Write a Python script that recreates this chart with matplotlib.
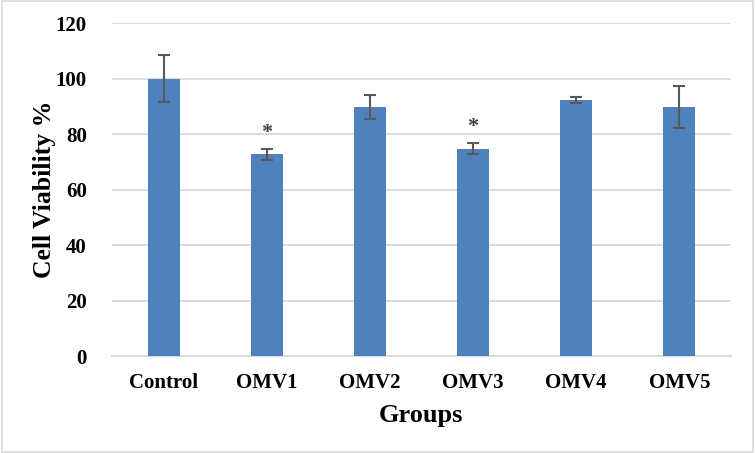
import matplotlib
matplotlib.use("Agg")
import matplotlib.pyplot as plt
from matplotlib.patches import Rectangle

groups = ["Control", "OMV1", "OMV2", "OMV3", "OMV4", "OMV5"]
viability = [100.0, 72.8, 89.9, 74.7, 92.4, 89.9]
errors = [8.5, 2.0, 4.3, 2.0, 1.0, 7.5]
significant = [False, True, False, True, False, False]
yticks = [0, 20, 40, 60, 80, 100, 120]

plt.rcParams['font.family'] = ['Liberation Serif', 'DejaVu Serif']
plt.rcParams['font.weight'] = 'bold'

fig = plt.figure(figsize=(7.55, 4.53), dpi=100)
ax = fig.add_axes([0.1483, 0.2141, 0.8197, 0.7345])

x = list(range(len(groups)))
ax.bar(x, viability, width=0.31, color='#4F81BD', zorder=3,
       yerr=errors, error_kw=dict(ecolor='#595959', elinewidth=1.5, capsize=4.5, capthick=1.5, zorder=4))

for xi, v, e, s in zip(x, viability, errors, significant):
    if s:
        ax.text(xi, v + e + 2.2, "*", ha='center', va='bottom', fontsize=16,
                fontweight='bold', color='#404040')

ax.set_xlim(-0.5, len(groups) - 0.5)
ax.set_ylim(0, 120)
ax.set_yticks(yticks)
ax.set_xticks(x)
ax.set_xticklabels(groups)
ax.yaxis.grid(True, color='#D9D9D9', linewidth=1.3, zorder=0)
ax.set_axisbelow(True)
for sp in ['top', 'right', 'left']:
    ax.spines[sp].set_visible(False)
ax.spines['bottom'].set_color('#D9D9D9')
ax.spines['bottom'].set_linewidth(1.3)
ax.tick_params(axis='both', length=0, labelsize=15)
ax.tick_params(axis='y', pad=18)
ax.tick_params(axis='x', pad=12)
for lbl in ax.get_xticklabels() + ax.get_yticklabels():
    lbl.set_fontweight('bold')

ax.set_xlabel("Groups", fontsize=19, fontweight='bold', labelpad=8)
ax.set_ylabel("Cell Viability %", fontsize=18.5, fontweight='bold', labelpad=0)

fig.patches.append(Rectangle((0.003, 0.003), 0.994, 0.994, transform=fig.transFigure,
                             fill=False, edgecolor='#D9D9D9', linewidth=1.2))

fig.savefig("out.png", dpi=100)
